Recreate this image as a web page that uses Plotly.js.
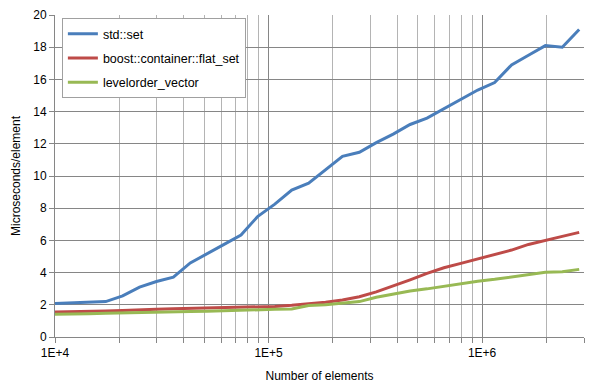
<!DOCTYPE html>
<html>
<head>
<meta charset="utf-8">
<script src="https://cdn.plot.ly/plotly-3.0.1.min.js"></script>
<style>html,body{margin:0;padding:0;background:#fff;}#chart{width:606px;height:390px;}</style>
</head>
<body>
<div id="chart"></div>
<script>
const elements = [10000, 12000, 14400, 17280, 20736, 24883, 29860, 35832, 42998, 51598, 61917, 74301, 89161, 106993, 128392, 154070, 184884, 221861, 266233, 319480, 383376, 460051, 552061, 662474, 794968, 953962, 1144755, 1373706, 1648447, 1978136, 2373763, 2848516];
const stdSet = [2.08, 2.13, 2.17, 2.2, 2.55, 3.1, 3.45, 3.72, 4.6, 5.2, 5.75, 6.33, 7.5, 8.25, 9.13, 9.55, 10.4, 11.22, 11.47, 12.07, 12.6, 13.2, 13.6, 14.18, 14.78, 15.34, 15.8, 16.9, 17.5, 18.1, 18.0, 19.1];
const flatSet = [1.55, 1.56, 1.6, 1.62, 1.65, 1.7, 1.72, 1.75, 1.77, 1.79, 1.85, 1.87, 1.88, 1.9, 1.97, 2.06, 2.16, 2.3, 2.5, 2.8, 3.15, 3.55, 3.95, 4.3, 4.57, 4.86, 5.15, 5.4, 5.75, 6.02, 6.25, 6.5];
const levelorder = [1.42, 1.42, 1.45, 1.47, 1.5, 1.52, 1.54, 1.57, 1.58, 1.6, 1.64, 1.67, 1.7, 1.72, 1.74, 1.95, 2.0, 2.09, 2.2, 2.47, 2.65, 2.86, 2.99, 3.15, 3.3, 3.46, 3.58, 3.72, 3.86, 4.02, 4.06, 4.2];
const seriesNames = ["std::set", "boost::container::flat_set", "levelorder_vector"];
const xTickVals = [1e4, 1e5, 1e6];
const xTickText = ["1E+4", "1E+5", "1E+6"];
const xMinorVals = [2e4, 3e4, 4e4, 5e4, 6e4, 7e4, 8e4, 9e4, 2e5, 3e5, 4e5, 5e5, 6e5, 7e5, 8e5, 9e5, 2e6, 3e6];
const xMax = 3e6;
const colors = ["#4a7ebb", "#be4b48", "#98b954"];
const ys = [stdSet, flatSet, levelorder];

const traces = ys.map((y, i) => ({
  x: elements, y: y, type: "scatter", mode: "lines", name: seriesNames[i],
  legendgroup: "g" + i,
  line: {color: colors[i], width: 3}
}));

const font = {family: "Liberation Sans, Arial, sans-serif", size: 12, color: "#000"};
const layout = {
  width: 606, height: 390,
  margin: {l: 55, r: 22, t: 15, b: 53},
  paper_bgcolor: "#fff", plot_bgcolor: "#fff",
  font: font,
  showlegend: true,
  legend: {
    x: 0.013, y: 0.99, xanchor: "left", yanchor: "top",
    bgcolor: "#fff", bordercolor: "#a0a0a0", borderwidth: 1,
    font: {family: "Liberation Sans, Arial, sans-serif", size: 12.5, color: "#000"},
    tracegroupgap: 5,
    entrywidth: 160, entrywidthmode: "pixels"
  },
  xaxis: {
    type: "log", range: [4, Math.log10(xMax)],
    tickmode: "array", tickvals: xTickVals, ticktext: xTickText,
    ticks: "outside", ticklen: 5, tickcolor: "#868686",
    showgrid: true, gridcolor: "#868686", gridwidth: 1,
    showline: true, linecolor: "#868686", linewidth: 1,
    zeroline: false,
    minor: {tickmode: "array", tickvals: xMinorVals, ticks: "outside", ticklen: 5, tickcolor: "#868686", showgrid: true, gridcolor: "#b4b4b4", gridwidth: 1},
    title: {text: "Number of elements", font: font, standoff: 12},
    tickfont: font
  },
  yaxis: {
    range: [0, 20], dtick: 2, tick0: 0,
    ticks: "outside", ticklen: 5, tickcolor: "#868686",
    showgrid: true, gridcolor: "#868686", gridwidth: 1,
    showline: true, linecolor: "#868686", linewidth: 1,
    zeroline: false,
    title: {text: "Microseconds/element", font: font, standoff: 10},
    tickfont: font
  }
};

Plotly.newPlot("chart", traces, layout, {staticPlot: true, displayModeBar: false});
</script>
</body>
</html>
